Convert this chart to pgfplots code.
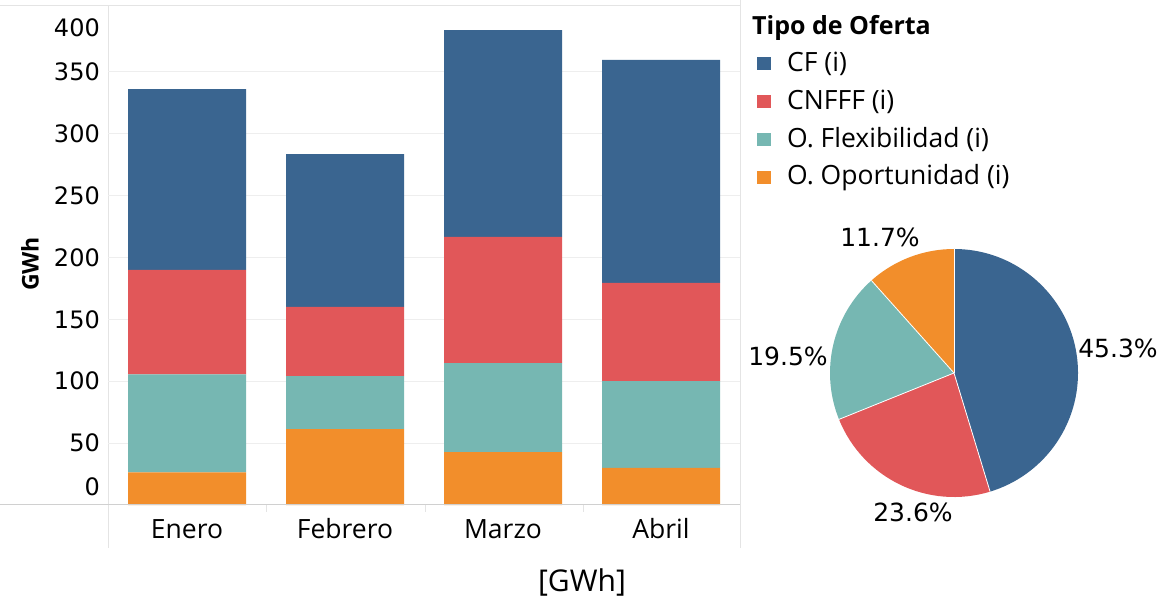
\documentclass[border=0pt]{standalone}
\usepackage{pgfplots}
\pgfplotsset{compat=1.18}
\usepackage{fontspec}
\setmainfont{Open Sans}
\newfontfamily\numfont{DejaVu Sans}
\definecolor{cfblue}{HTML}{3A6590}
\definecolor{cnred}{HTML}{E15759}
\definecolor{flteal}{HTML}{76B7B2}
\definecolor{oporange}{HTML}{F28E2B}
\definecolor{gridc}{HTML}{EEEEEE}
\definecolor{axc}{HTML}{D0D0D0}
\definecolor{framec}{HTML}{E4E4E4}
\begin{document}
\begin{tikzpicture}
\path[use as bounding box] (0,0) rectangle (1166pt,602pt);
% frame lines
\draw[framec, line width=1pt] (0,596pt) -- (740pt,596pt);
\draw[framec, line width=1pt] (108pt,54pt) -- (108pt,596pt);
\draw[framec, line width=1pt] (740pt,54pt) -- (740pt,602pt);
\begin{axis}[
  at={(108pt,97pt)}, anchor=south west,
  scale only axis, width=632pt, height=495pt,
  ymin=0, ymax=400, xmin=-0.5, xmax=3.5,
  ybar stacked, bar width=118pt,
  axis line style={draw=none},
  major tick length=0pt,
  xtick={0,1,2,3}, xticklabels={Enero,Febrero,Marzo,Abril},
  xticklabel style={font=\fontsize{26.5}{30}\selectfont, anchor=center, yshift=-24pt},
  ytick={50,100,...,350},
  yticklabel style={font=\numfont\fontsize{24}{28}\selectfont, anchor=east, inner sep=0pt, xshift=-8pt},
  /pgf/number format/assume math mode=true,
  ymajorgrids, grid style={gridc, line width=1pt},
  clip=false,
]
\addplot[fill=oporange, draw=none] coordinates {(0,26.4) (1,61.4) (2,42.8) (3,29.9)};
\addplot[fill=flteal, draw=none] coordinates {(0,79.1) (1,42.8) (2,71.9) (3,70.3)};
\addplot[fill=cnred, draw=none] coordinates {(0,84.5) (1,55.8) (2,101.9) (3,79.2)};
\addplot[fill=cfblue, draw=none] coordinates {(0,146.0) (1,123.6) (2,167.2) (3,180.2)};
\end{axis}
\draw[axc, line width=1pt] (0,97pt) -- (740pt,97pt);
\foreach \xx in {266,425,583} \draw[framec, line width=1pt] (\xx pt,97pt) -- (\xx pt,90pt);
% extra y labels shifted like the reference
\node[anchor=east, inner sep=0pt, font=\numfont\fontsize{24}{28}\selectfont] at (100pt,115pt) {0};
\node[anchor=east, inner sep=0pt, font=\numfont\fontsize{24}{28}\selectfont] at (100pt,574pt) {400};
\node[rotate=90, font=\bfseries\fontsize{23}{26}\selectfont] at (30pt,338pt) {GWh};
\node[font=\fontsize{30}{36}\selectfont] at (582pt,20pt) {[GWh]};
% legend
\node[anchor=west, inner sep=0pt, font=\bfseries\fontsize{25}{30}\selectfont] at (752pt,574pt) {Tipo de Oferta};
\fill[cfblue] (757pt,532pt) rectangle (771pt,545pt);
\fill[cnred] (757pt,494pt) rectangle (771pt,507pt);
\fill[flteal] (757pt,456pt) rectangle (771pt,469pt);
\fill[oporange] (757pt,418pt) rectangle (771pt,431pt);
\node[anchor=west, inner sep=0pt, font=\fontsize{26.5}{30}\selectfont] at (787pt,538pt) {CF (i)};
\node[anchor=west, inner sep=0pt, font=\fontsize{26.5}{30}\selectfont] at (787pt,500pt) {CNFFF (i)};
\node[anchor=west, inner sep=0pt, font=\fontsize{26.5}{30}\selectfont] at (787pt,462pt) {O. Flexibilidad (i)};
\node[anchor=west, inner sep=0pt, font=\fontsize{26.5}{30}\selectfont] at (787pt,424pt) {O. Oportunidad (i)};
% pie
\begin{axis}[
  at={(830pt,105pt)}, anchor=south west,
  scale only axis, width=248pt, height=248pt,
  xmin=-1, xmax=1, ymin=-1, ymax=1,
  hide axis, clip=false,
]
\fill[cfblue] (axis cs:0,0) -- ++(90:124pt) arc[start angle=90, delta angle=-3.6*45.3, radius=124pt] -- cycle;
\fill[cnred] (axis cs:0,0) -- ++(90-3.6*45.3:124pt) arc[start angle=90-3.6*45.3, delta angle=-3.6*23.6, radius=124pt] -- cycle;
\fill[flteal] (axis cs:0,0) -- ++(90-3.6*68.9:124pt) arc[start angle=90-3.6*68.9, delta angle=-3.6*19.5, radius=124pt] -- cycle;
\fill[oporange] (axis cs:0,0) -- ++(90-3.6*88.4:124pt) arc[start angle=90-3.6*88.4, end angle=-270, radius=124pt] -- cycle;
\draw[white, line width=0.8pt] (axis cs:0,0) -- ++(90:124pt);
\draw[white, line width=0.8pt] (axis cs:0,0) -- ++(90-3.6*45.3:124pt);
\draw[white, line width=0.8pt] (axis cs:0,0) -- ++(90-3.6*68.9:124pt);
\draw[white, line width=0.8pt] (axis cs:0,0) -- ++(90-3.6*88.4:124pt);
\end{axis}
\node[font=\numfont\fontsize{25}{28}\selectfont] at (1118pt,254pt) {45.3\%};
\node[font=\numfont\fontsize{25}{28}\selectfont] at (913pt,90pt) {23.6\%};
\node[font=\numfont\fontsize{25}{28}\selectfont] at (788pt,246pt) {19.5\%};
\node[font=\numfont\fontsize{25}{28}\selectfont] at (880pt,365pt) {11.7\%};
\end{tikzpicture}
\end{document}
